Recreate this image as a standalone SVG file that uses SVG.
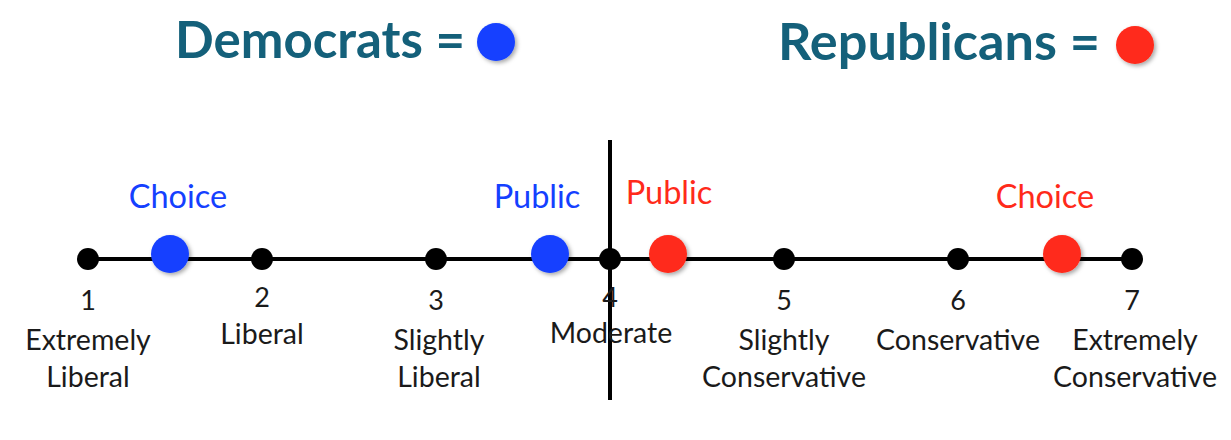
<svg xmlns="http://www.w3.org/2000/svg" width="1231" height="440" viewBox="0 0 1231 440">
<style>
.t{font-family:Lato,"Open Sans","Liberation Sans",sans-serif;}
.title{font-size:51px;font-weight:bold;fill:#14607a;}
.lbl{font-size:28.5px;fill:#1a1a1a;text-anchor:middle;}
.num{font-size:27px;fill:#1a1a1a;text-anchor:middle;}
.tag{font-size:32.5px;text-anchor:middle;}
.dot{fill:#000;}
.blue{fill:#1440ff;}
.red{fill:#ff2a1a;}
</style>
<defs>
<filter id="sh" x="-50%" y="-50%" width="200%" height="200%">
<feDropShadow dx="2" dy="2" stdDeviation="2" flood-color="#000" flood-opacity="0.35"/>
</filter>
</defs>
<rect width="1231" height="440" fill="#fff"/>
<g id="legend-dem">
<text class="t title" x="175" y="58" textLength="290" lengthAdjust="spacingAndGlyphs">Democrats =</text>
<circle class="blue" cx="496" cy="42" r="19" filter="url(#sh)"/>
</g>
<g id="legend-rep">
<text class="t title" x="778" y="60" textLength="322" lengthAdjust="spacingAndGlyphs">Republicans =</text>
<circle class="red" cx="1135" cy="45" r="19" filter="url(#sh)"/>
</g>
<g id="connectors" stroke="#000" stroke-width="4">
<line x1="88" y1="259" x2="1132" y2="259"/>
<line x1="610" y1="140" x2="610" y2="400"/>
</g>
<g id="p1"><circle class="dot" cx="88" cy="259" r="11"/><text class="t num" x="88" y="310">1</text><text class="t lbl" x="88" y="350">Extremely</text><text class="t lbl" x="88" y="387">Liberal</text></g>
<g id="p2"><circle class="dot" cx="262" cy="259" r="11"/><text class="t num" x="262" y="307">2</text><text class="t lbl" x="262" y="344">Liberal</text></g>
<g id="p3"><circle class="dot" cx="436" cy="259" r="11"/><text class="t num" x="436" y="310">3</text><text class="t lbl" x="439" y="350">Slightly</text><text class="t lbl" x="439" y="387">Liberal</text></g>
<g id="p4"><circle class="dot" cx="610" cy="259" r="11"/><text class="t num" x="610" y="307">4</text><text class="t lbl" x="611" y="343">Moderate</text></g>
<g id="p5"><circle class="dot" cx="784" cy="259" r="11"/><text class="t num" x="784" y="310">5</text><text class="t lbl" x="784" y="350">Slightly</text><text class="t lbl" x="784" y="387">Conservative</text></g>
<g id="p6"><circle class="dot" cx="958" cy="259" r="11"/><text class="t num" x="958" y="310">6</text><text class="t lbl" x="958" y="350">Conservative</text></g>
<g id="p7"><circle class="dot" cx="1132" cy="259" r="11"/><text class="t num" x="1132" y="310">7</text><text class="t lbl" x="1135" y="350">Extremely</text><text class="t lbl" x="1135" y="387">Conservative</text></g>
<g id="dem-choice"><circle class="blue" cx="170" cy="254" r="19" filter="url(#sh)"/><text class="t tag blue" x="178" y="208">Choice</text></g>
<g id="dem-public"><circle class="blue" cx="550" cy="254" r="19" filter="url(#sh)"/><text class="t tag blue" x="537" y="208">Public</text></g>
<g id="rep-public"><circle class="red" cx="668" cy="254" r="19" filter="url(#sh)"/><text class="t tag red" x="669" y="204">Public</text></g>
<g id="rep-choice"><circle class="red" cx="1062" cy="254" r="19" filter="url(#sh)"/><text class="t tag red" x="1045" y="208">Choice</text></g>
</svg>
